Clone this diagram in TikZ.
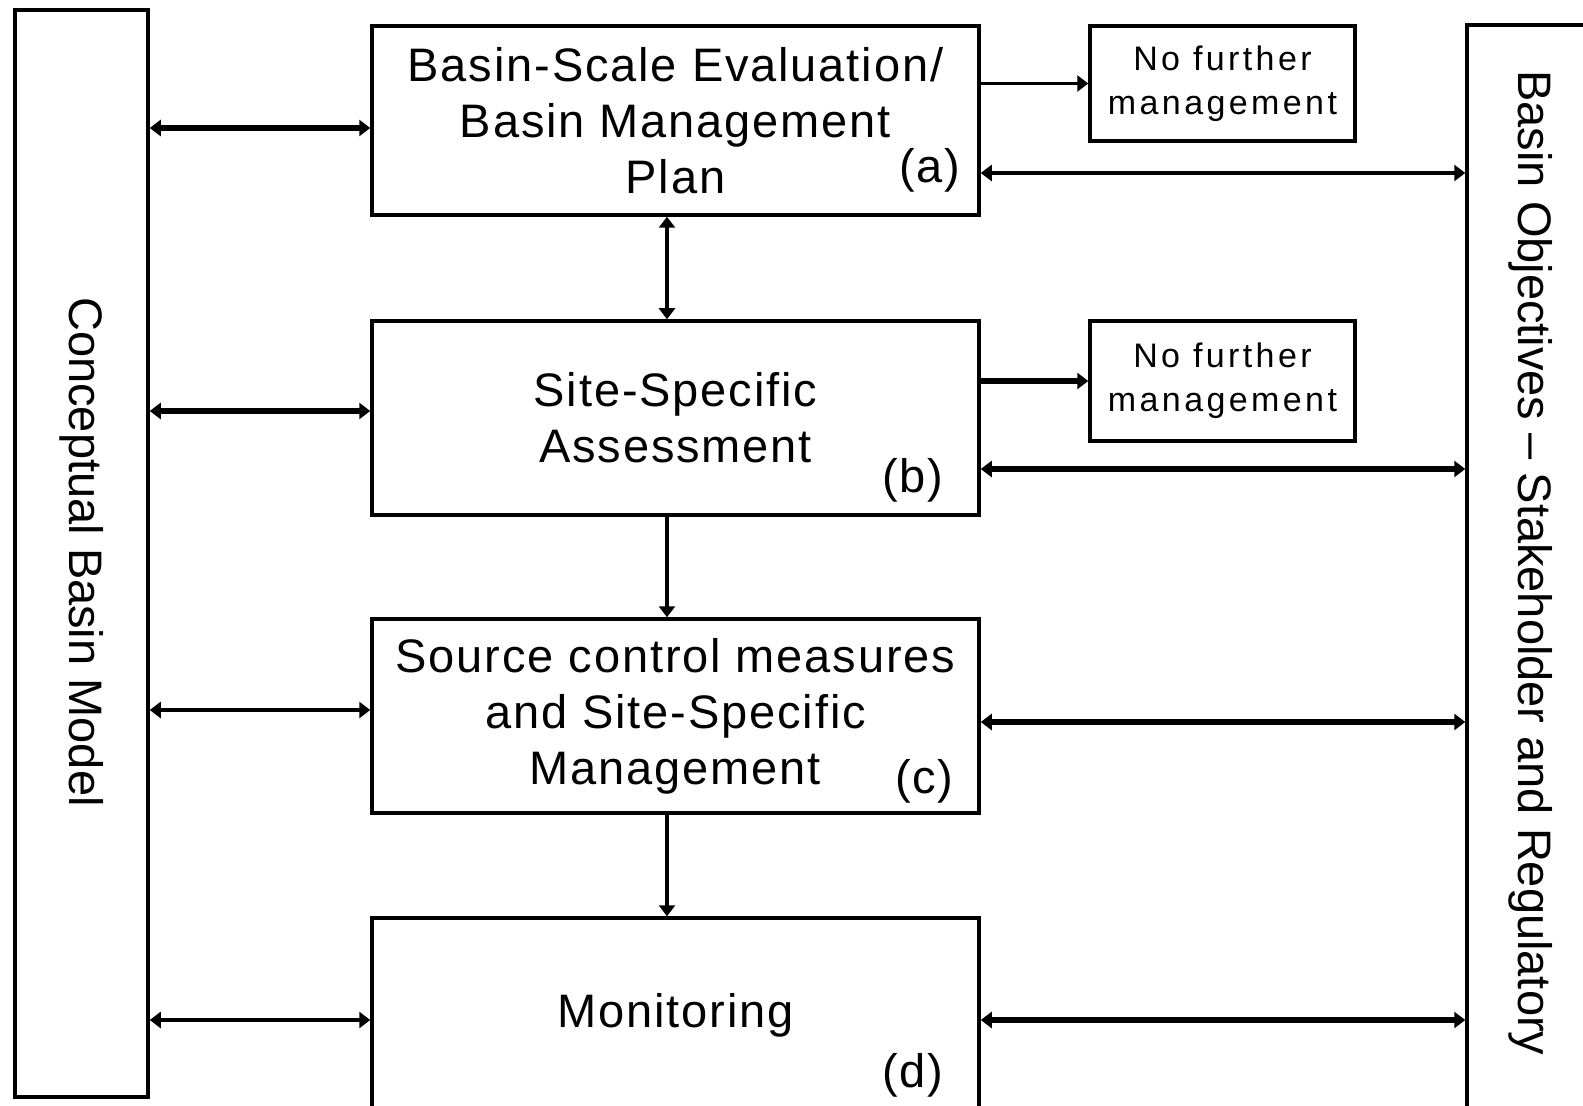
\documentclass[tikz,border=0pt]{standalone}
\usepackage{fontspec}
\setmainfont{Liberation Sans}
\newfontfamily\boxfont{Liberation Sans}[LetterSpace=4]
\newfontfamily\nffont{Liberation Sans}[LetterSpace=10]
\usetikzlibrary{arrows.meta}

\begin{document}
\begin{tikzpicture}[x=0.5pt,y=-0.5pt,
  >={Triangle[length=5.5pt,width=8pt]},
  box/.style={draw, line width=1.75pt, inner sep=0pt, align=center, minimum width=303.5pt, font=\boxfont\fontsize{23.5pt}{28pt}\selectfont},
  nfbox/.style={draw, line width=1.75pt, inner sep=0pt, align=center, minimum width=132.5pt, font=\nffont\fontsize{17pt}{22pt}\selectfont},
  side/.style={draw, line width=1.75pt, inner sep=0pt},
  vlabel/.style={rotate=-90, inner sep=0pt, font=\fontsize{23.5pt}{28pt}\selectfont},
  tag/.style={anchor=base east, inner sep=0pt, font=\boxfont\fontsize{23.5pt}{28pt}\selectfont},
  heavy/.style={line width=2.8pt},
  light/.style={line width=1.6pt}]
\useasboundingbox (0,0) rectangle (1583,1106);
\clip (0,0) rectangle (1583,1106);
\node[side, minimum width=66.5pt, minimum height=543.5pt] (cbm) at (81.5,553.5) {};
\node[vlabel] (cbmtxt) at (81.5,552) {Conceptual Basin Model};
\node[side, minimum width=64pt, minimum height=587.5pt] (bor) at (1531,612.5) {};
\node[vlabel] (bortxt) at (1531,563) {Basin Objectives – Stakeholder and Regulatory};
\node[box, minimum height=94.5pt] (a) at (675.5,120.5) {Basin-Scale Evaluation/\\Basin Management\\Plan};
\node[box, minimum height=97pt] (b) at (675.5,418) {Site-Specific\\Assessment};
\node[box, minimum height=97pt] (c) at (675.5,716) {Source control measures\\and Site-Specific\\Management};
\node[box, minimum height=97pt] (d) at (675.5,1015) {Monitoring};
\node[nfbox, minimum height=57.5pt] (nf1) at (1222.5,83.5) {No further\\management};
\node[nfbox, minimum height=60pt] (nf2) at (1222.5,381) {No further\\management};
\node[tag] (ta) at (961,183) {(a)};
\node[tag] (tb) at (944,493) {(b)};
\node[tag] (tc) at (954,793) {(c)};
\node[tag] (td) at (944,1087) {(d)};
\coordinate (l1) at (0,128);
\coordinate (l2) at (0,411);
\coordinate (l3) at (0,710);
\coordinate (l4) at (0,1020);
\coordinate (r1) at (0,173);
\coordinate (r2) at (0,469);
\coordinate (r3) at (0,722);
\coordinate (r4) at (0,1020);
\coordinate (vx) at (667,0);
\draw[heavy,<->] (cbm.east |- l1) -- (a.west |- l1);
\draw[heavy,<->] (cbm.east |- l2) -- (b.west |- l2);
\draw[light,<->] (cbm.east |- l3) -- (c.west |- l3);
\draw[light,<->] (cbm.east |- l4) -- (d.west |- l4);
\draw[light,<->] (a.east |- r1) -- (bor.west |- r1);
\draw[heavy,<->] (b.east |- r2) -- (bor.west |- r2);
\draw[heavy,<->] (c.east |- r3) -- (bor.west |- r3);
\draw[heavy,<->] (d.east |- r4) -- (bor.west |- r4);
\draw[light,->] (a.east |- nf1.west) -- (nf1.west);
\draw[heavy,->] (b.east |- nf2.west) -- (nf2.west);
\draw[light,<->] (a.south -| vx) -- (b.north -| vx);
\draw[light,->] (b.south -| vx) -- (c.north -| vx);
\draw[light,->] (c.south -| vx) -- (d.north -| vx);
\end{tikzpicture}
\end{document}
